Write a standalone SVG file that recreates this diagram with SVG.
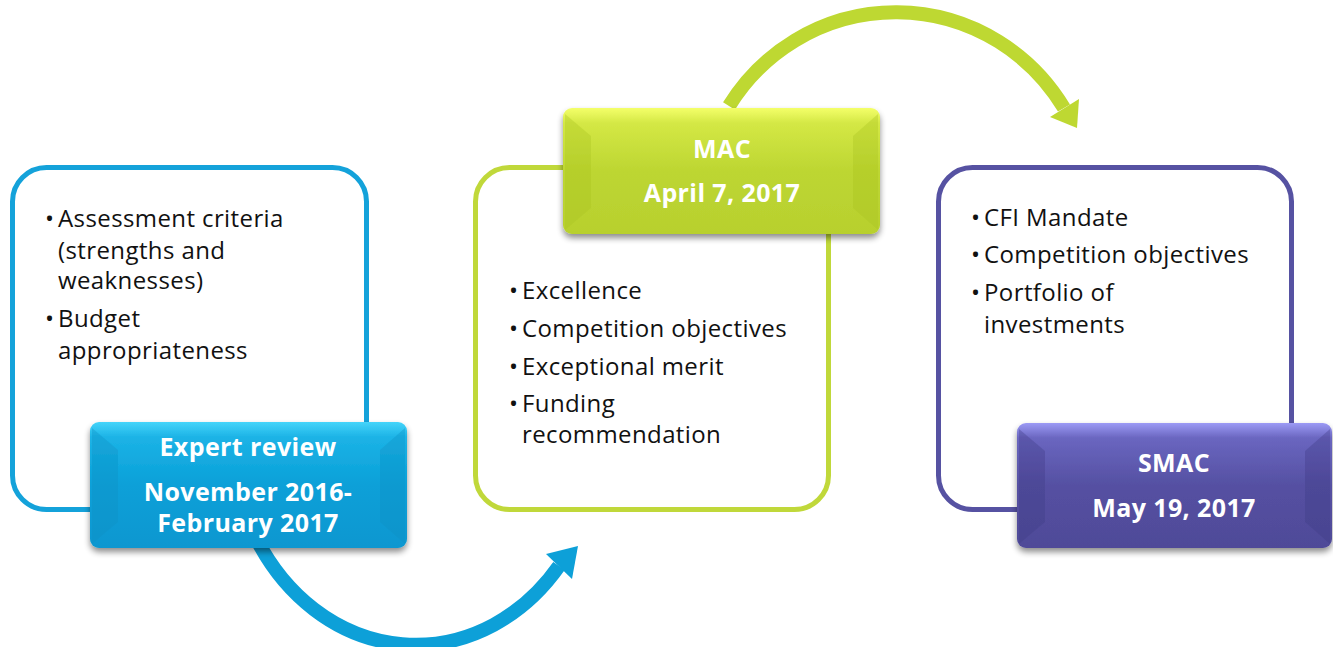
<svg xmlns="http://www.w3.org/2000/svg" width="1333" height="647" viewBox="0 0 1333 647">
<defs>
<style>
.body{font-family:"Open Sans","Noto Sans",sans-serif;font-size:24px;letter-spacing:0.4px;fill:#111}
.lbl{font-family:"Open Sans","Noto Sans",sans-serif;font-size:25px;letter-spacing:0.4px;font-weight:bold;fill:#fff;text-anchor:middle}
.frame{fill:#fff;stroke-width:5}
</style>
<filter id="sh" x="-10%" y="-10%" width="120%" height="130%">
<feGaussianBlur in="SourceAlpha" stdDeviation="3"/>
<feOffset dy="4" result="b"/>
<feComponentTransfer><feFuncA type="linear" slope="0.45"/></feComponentTransfer>
<feMerge><feMergeNode/><feMergeNode in="SourceGraphic"/></feMerge>
</filter>
<linearGradient id="gBlue" x1="0" y1="0" x2="0" y2="1">
<stop offset="0" stop-color="#45d4fa"/><stop offset="0.12" stop-color="#1cb3e6"/><stop offset="0.5" stop-color="#0aa0d8"/><stop offset="1" stop-color="#0897d0"/>
</linearGradient>
<linearGradient id="gGreen" x1="0" y1="0" x2="0" y2="1">
<stop offset="0" stop-color="#f4ff6a"/><stop offset="0.12" stop-color="#d4e845"/><stop offset="0.5" stop-color="#bdd632"/><stop offset="1" stop-color="#b8d02e"/>
</linearGradient>
<linearGradient id="gPurple" x1="0" y1="0" x2="0" y2="1">
<stop offset="0" stop-color="#9c9af5"/><stop offset="0.12" stop-color="#6a66c0"/><stop offset="0.5" stop-color="#5550a2"/><stop offset="1" stop-color="#4f4a98"/>
</linearGradient>
</defs>

<g id="connectors">
<path d="M257,540 A185,215 0 0 0 559,566" fill="none" stroke="#0da0d8" stroke-width="14"/>
<polygon points="578,546 572,579 546,554" fill="#0da0d8"/>
<path d="M729,106 A197,200 0 0 1 1064,108" fill="none" stroke="#bed832" stroke-width="14"/>
<polygon points="1077,128 1050,117 1079,99" fill="#bed832"/>
</g>

<g id="expert-review">
<rect class="frame" x="12.5" y="167.5" width="354" height="342" rx="34" stroke="#14a2da"/>
<text class="body"><tspan x="45" y="227">•</tspan><tspan x="58" y="227">Assessment criteria</tspan><tspan x="58" y="259">(strengths and</tspan><tspan x="58" y="289">weaknesses)</tspan><tspan x="45" y="327">•</tspan><tspan x="58" y="327">Budget</tspan><tspan x="58" y="359">appropriateness</tspan></text>
<g filter="url(#sh)">
<rect x="90" y="422" width="317" height="126" rx="9" fill="url(#gBlue)"/>
<polygon points="92,428 118,450 118,522 92,544" fill="#0b8fc4" opacity="0.35"/>
<polygon points="405,428 380,450 380,522 405,544" fill="#0b8fc4" opacity="0.35"/>
</g>
<text class="lbl"><tspan x="248" y="456">Expert review</tspan><tspan x="248" y="501">November 2016-</tspan><tspan x="248" y="532">February 2017</tspan></text>
</g>

<g id="mac">
<rect class="frame" x="475.5" y="167.5" width="353" height="342" rx="34" stroke="#c0d83a"/>
<text class="body"><tspan x="509" y="299">•</tspan><tspan x="522" y="299">Excellence</tspan><tspan x="509" y="337">•</tspan><tspan x="522" y="337">Competition objectives</tspan><tspan x="509" y="375">•</tspan><tspan x="522" y="375">Exceptional merit</tspan><tspan x="509" y="412">•</tspan><tspan x="522" y="412">Funding</tspan><tspan x="522" y="443">recommendation</tspan></text>
<g filter="url(#sh)">
<rect x="563" y="108" width="317" height="126" rx="9" fill="url(#gGreen)"/>
<polygon points="565,114 591,136 591,208 565,230" fill="#a9c21f" opacity="0.35"/>
<polygon points="878,114 853,136 853,208 878,230" fill="#a9c21f" opacity="0.35"/>
</g>
<text class="lbl"><tspan x="722" y="158">MAC</tspan><tspan x="722" y="202">April 7, 2017</tspan></text>
</g>

<g id="smac">
<rect class="frame" x="938.5" y="167.5" width="353" height="342" rx="34" stroke="#5652a2"/>
<text class="body"><tspan x="971" y="226">•</tspan><tspan x="984" y="226">CFI Mandate</tspan><tspan x="971" y="263">•</tspan><tspan x="984" y="263">Competition objectives</tspan><tspan x="971" y="301">•</tspan><tspan x="984" y="301">Portfolio of</tspan><tspan x="984" y="333">investments</tspan></text>
<g filter="url(#sh)">
<rect x="1017" y="423" width="315" height="125" rx="9" fill="url(#gPurple)"/>
<polygon points="1019,429 1045,451 1045,522 1019,544" fill="#3f3a85" opacity="0.35"/>
<polygon points="1330,429 1305,451 1305,522 1330,544" fill="#3f3a85" opacity="0.35"/>
</g>
<text class="lbl"><tspan x="1174" y="472">SMAC</tspan><tspan x="1174" y="517">May 19, 2017</tspan></text>
</g>
</svg>
